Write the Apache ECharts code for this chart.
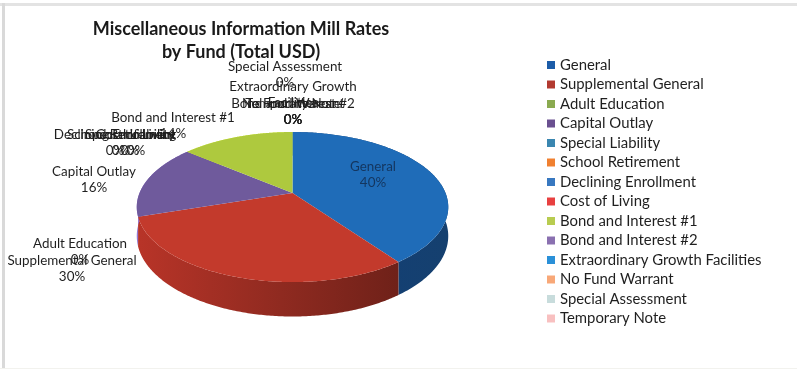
<!DOCTYPE html>
<html>
<head>
<meta charset="utf-8">
<style>html,body{margin:0;padding:0;background:#fff}#chart{width:797px;height:371px}</style>
<script src="https://cdn.jsdelivr.net/npm/echarts@6/dist/echarts.min.js"></script>
</head>
<body>
<div id="chart"></div>
<script>
// Mill rates by fund, in percent of the total
const funds = ['General','Supplemental General','Adult Education','Capital Outlay','Special Liability','School Retirement','Declining Enrollment','Cost of Living','Bond and Interest #1','Bond and Interest #2','Extraordinary Growth Facilities','No Fund Warrant','Special Assessment','Temporary Note'];
const shares = [40,30,0,16,0,0,0,0,14,0,0,0,0,0];
const legendColors = ['#1c5ca8','#b23a30','#8aaa50','#6a5090','#3a86b0','#f08030','#3878c0','#e84040','#b8cc50','#8a70b0','#2a90d8','#f8a878','#c8dcdc','#f8c0c0'];
const faceColors = ['#1f6cb8','#c33a2c','#8aaa50','#6f5a9c','#3a86b0','#f08030','#3878c0','#e84040','#aec93e','#8a70b0','#2a90d8','#f8a878','#c8dcdc','#f8c0c0'];
const labelLines = ['General','Supplemental General','Adult Education','Capital Outlay','Special Liability','School Retirement','Declining Enrollment','Cost of Living','Bond and Interest #1','Bond and Interest #2','Extraordinary Growth\nFacilities','No Fund Warrant','Special Assessment','Temporary Note'];
const labelSpots = [[373,166],[72,260],[80,243],[94,171],[130,134],[121,134],[115,134],[136,134],[173,117],[293,103],[293,86],[293,103],[285,66],[293,103]];

// Tilted disc: a circle seen in perspective, with a visible rim below it
const disc = {cx:292.5, cy:193, rx:153, ry:72.4, tilt:0.187, depth:28};
const project = (turn) => {
  const a = turn * 2 * Math.PI, u = Math.sin(a), v = -Math.cos(a), w = 1 - disc.tilt * v;
  return {x: disc.cx + disc.rx * u / w, y: disc.cy + disc.ry * v / w, w};
};
const total = shares.reduce((s, v) => s + v, 0);
const starts = shares.map((_, i) => shares.slice(0, i).reduce((s, v) => s + v, 0) / total);

const rimFill = (i) => {
  if (i === 0) return new echarts.graphic.LinearGradient(0,0,1,0,[{offset:0,color:'#123f78'},{offset:1,color:'#15406f'}]);
  if (i === 1) return new echarts.graphic.LinearGradient(0,0,1,0,[{offset:0,color:'#b83428'},{offset:0.55,color:'#8f2a20'},{offset:1,color:'#6f2119'}]);
  return echarts.color.lift(faceColors[i], -0.35);
};

const renderFund = (i) => (params, api) => {
  const value = api.value(0), children = [];
  if (value > 0) {
    const t0 = starts[i], t1 = t0 + value / total, arc = [];
    for (let k = 0; k <= 180; k++) arc.push(project(t0 + (t1 - t0) * k / 180));
    const top = arc.map(p => [p.x, p.y]);
    const bottom = arc.map(p => [p.x, p.y + disc.depth / p.w]).reverse();
    children.push({type:'polygon', z2:1, shape:{points: top.concat(bottom)}, style:{fill: rimFill(i)}});
    children.push({type:'polygon', z2:2, shape:{points: [[disc.cx, disc.cy]].concat(top)}, style:{fill: faceColors[i]}});
  }
  const pct = Math.round(value / total * 100) + '%';
  children.push({type:'text', z2:3, x:labelSpots[i][0], y:labelSpots[i][1] - 8,
    style:{text: labelLines[i] + '\n' + pct, align:'center', verticalAlign:'top',
      fontFamily:'Lato', fontSize:13.4, lineHeight:16.5, fill: i === 0 ? '#14365f' : '#1f1f1f'}});
  return {type:'group', children};
};

const chart = echarts.init(document.getElementById('chart'), null, {renderer:'canvas'});
chart.setOption({
  animation:false,
  backgroundColor:'#ffffff',
  title:{text:'Miscellaneous Information Mill Rates\nby Fund (Total USD)', left:236, top:13, textAlign:'center',
    textStyle:{fontFamily:'Lato', fontSize:18, fontWeight:'bold', lineHeight:23, color:'#1a1a1a'}},
  legend:{orient:'vertical', left:542, top:52, itemWidth:8, itemHeight:8, itemGap:3.5, icon:'rect', data:funds,
    textStyle:{fontFamily:'Lato', fontSize:14.9, lineHeight:16, color:'#1f1f1f'}},
  graphic:[
    {type:'rect', silent:true, shape:{x:0,y:3,width:797,height:3}, style:{fill:'#e3e3e3'}},
    {type:'rect', silent:true, shape:{x:2,y:3,width:3,height:365}, style:{fill:'#d9d9d9'}},
    {type:'rect', silent:true, shape:{x:0,y:368,width:797,height:1}, style:{fill:'#f2f2ee'}}
  ],
  series: funds.map((name, i) => ({
    type:'custom', name, coordinateSystem:'none', silent:true,
    itemStyle:{color: legendColors[i]},
    renderItem: renderFund(i),
    data:[[shares[i]]]
  }))
});
</script>
</body>
</html>
